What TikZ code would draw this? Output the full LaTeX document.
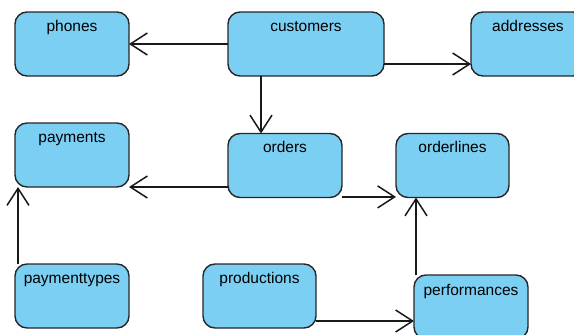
\documentclass[tikz,border=0pt]{standalone}
\usepackage{fontspec}
\setmainfont{Liberation Sans}
\usetikzlibrary{arrows.meta}
\definecolor{boxfill}{HTML}{7BCFF3}
\definecolor{boxline}{HTML}{262626}
\tikzset{
  tbl/.style={draw=boxline, line width=1.4pt, fill=boxfill, rounded corners=12pt,
    minimum width=114pt, minimum height=64pt, inner sep=0pt, outer sep=0pt},
  ttl/.style={anchor=base, inner sep=0pt, font=\fontsize{15.5pt}{17pt}\selectfont, text=black},
  rel/.style={draw=black!90, line width=1.5pt, -{Straight Barb[length=17pt,width=22pt,line width=1.5pt]}}
}
\begin{document}
\begin{tikzpicture}[x=1pt,y=-1pt]
\useasboundingbox (0,0) rectangle (574,335);
\clip (0,0) rectangle (574,335);
% boxes
\node[tbl] (phones) at (72,44) {};
\node[tbl, minimum width=156pt] (customers) at (306,44) {};
\node[tbl] (addresses) at (528,44) {};
\node[tbl] (payments) at (72,155) {};
\node[tbl] (orders) at (285,165.5) {};
\node[tbl, minimum width=113pt] (orderlines) at (452.5,165.5) {};
\node[tbl] (paymenttypes) at (72,296) {};
\node[tbl, minimum width=113pt] (productions) at (259.5,296) {};
\node[tbl] (performances) at (471,307) {};
% titles
\node[ttl] (t-phones) at ([yshift=-19pt]phones.north) {phones};
\node[ttl] (t-customers) at ([yshift=-19pt]customers.north) {customers};
\node[ttl] (t-addresses) at ([yshift=-19pt]addresses.north) {addresses};
\node[ttl] (t-payments) at ([yshift=-19pt]payments.north) {payments};
\node[ttl] (t-orders) at ([yshift=-19pt]orders.north) {orders};
\node[ttl] (t-orderlines) at ([yshift=-19pt]orderlines.north) {orderlines};
\node[ttl] (t-paymenttypes) at ([yshift=-19pt]paymenttypes.north) {paymenttypes};
\node[ttl] (t-productions) at ([yshift=-19pt]productions.north) {productions};
\node[ttl] (t-performances) at ([yshift=-20pt]performances.north) {performances};
% relations
\draw[rel] (customers.west) -- (phones.east);
\draw[rel] ([yshift=12pt]customers.south east) -- ([yshift=12pt]addresses.south west);
\draw[rel] ([xshift=33pt]customers.south west) -- ([xshift=33pt]customers.south west |- orders.north);
\draw[rel] (orders.west |- payments.south east) -- (payments.south east);
\draw[rel] ([yshift=0.6pt]orders.south east) -- ([yshift=0.6pt]orderlines.south west);
\draw[rel] ([xshift=3pt]paymenttypes.north west) -- ([xshift=3pt]paymenttypes.north west |- payments.south);
\draw[rel] ([xshift=2pt]performances.north west) -- ([xshift=2pt]performances.north west |- orderlines.south);
\draw[rel] ([yshift=7pt]productions.south east) -- ([yshift=7pt]productions.south east -| performances.west);
\end{tikzpicture}
\end{document}
